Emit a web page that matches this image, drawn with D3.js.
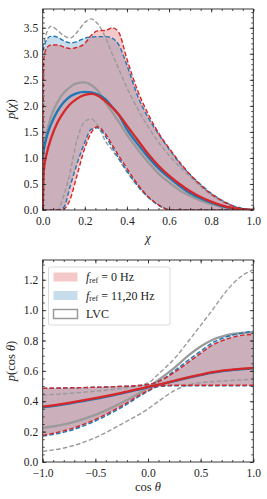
<!DOCTYPE html>
<html>
<head>
<meta charset="utf-8">
<script src="https://cdn.jsdelivr.net/npm/d3@7"></script>
<style>
  body { margin: 0; background: #fff; }
  svg { display: block; font-family: "Liberation Serif", "DejaVu Serif", serif; }
</style>
</head>
<body>
<div id="chart"></div>
<script>
// ---- data: spin magnitude chi ----
const chi = [0, 0.005, 0.02, 0.04, 0.07, 0.10, 0.13, 0.16, 0.20, 0.23, 0.26, 0.30, 0.33, 0.36,
  0.40, 0.45, 0.50, 0.55, 0.60, 0.65, 0.70, 0.75, 0.80, 0.85, 0.90, 0.95, 1.0];

const chiLvcHi  = [3.1, 3.2, 3.42, 3.53, 3.45, 3.35, 3.3, 3.4, 3.6, 3.67, 3.58, 3.3, 3.0, 2.72,
  2.35, 1.95, 1.6, 1.3, 1.05, 0.83, 0.64, 0.45, 0.29, 0.17, 0.08, 0.02, 0];
const chiLvcMed = [0.95, 1.15, 1.5, 1.8, 2.07, 2.25, 2.36, 2.43, 2.45, 2.4, 2.3, 2.05, 1.88, 1.7,
  1.45, 1.17, 0.92, 0.7, 0.53, 0.38, 0.27, 0.18, 0.11, 0.06, 0.025, 0.005, 0];
const chiLvcLo  = [0, 0, 0, 0, 0, 0.28, 0.72, 1.3, 1.7, 1.75, 1.63, 1.31, 1.15, 0.98,
  0.73, 0.46, 0.25, 0.1, 0.01, 0, 0, 0, 0, 0, 0, 0, 0];

const chiBlueHi  = [3.05, 3.12, 3.28, 3.34, 3.32, 3.25, 3.21, 3.23, 3.3, 3.32, 3.33, 3.33, 3.3, 3.18,
  2.78, 2.2, 1.78, 1.46, 1.17, 0.9, 0.68, 0.49, 0.32, 0.19, 0.09, 0.03, 0];
const chiBlueMed = [1.0, 1.15, 1.42, 1.65, 1.9, 2.07, 2.18, 2.24, 2.27, 2.26, 2.22, 2.12, 1.98, 1.83,
  1.55, 1.27, 1.02, 0.8, 0.62, 0.46, 0.32, 0.22, 0.14, 0.075, 0.03, 0.008, 0];
const chiBlueLo  = [0, 0, 0, 0, 0, 0.05, 0.45, 0.85, 1.3, 1.55, 1.58, 1.4, 1.2, 1.0,
  0.75, 0.47, 0.25, 0.09, 0.005, 0, 0, 0, 0, 0, 0, 0, 0];

const chiRedHi  = [0, 2.9, 3.12, 3.17, 3.17, 3.13, 3.1, 3.12, 3.2, 3.35, 3.44, 3.45, 3.5, 3.42,
  2.9, 2.3, 1.85, 1.48, 1.19, 0.92, 0.68, 0.48, 0.31, 0.18, 0.08, 0.02, 0];
const chiRedMed = [0, 0.75, 1.1, 1.38, 1.68, 1.88, 2.03, 2.13, 2.21, 2.23, 2.2, 2.08, 1.97, 1.84,
  1.62, 1.35, 1.08, 0.85, 0.66, 0.5, 0.36, 0.25, 0.16, 0.09, 0.04, 0.01, 0];
const chiRedLo  = [0, 0, 0, 0, 0, 0.02, 0.2, 0.62, 1.19, 1.48, 1.6, 1.45, 1.25, 1.05,
  0.8, 0.5, 0.26, 0.1, 0.005, 0, 0, 0, 0, 0, 0, 0, 0];

// ---- data: spin tilt cos(theta) ----
const cosT = [-1, -0.75, -0.5, -0.25, 0, 0.1, 0.25, 0.4, 0.5, 0.6, 0.75, 0.9, 1.0];

const cosLvcHi  = [0.44, 0.452, 0.466, 0.485, 0.52, 0.58, 0.68, 0.81, 0.9, 0.99, 1.13, 1.23, 1.265];
const cosLvcMed = [0.225, 0.255, 0.31, 0.39, 0.49, 0.54, 0.62, 0.71, 0.76, 0.8, 0.835, 0.85, 0.855];
const cosLvcLo  = [0.07, 0.1, 0.16, 0.25, 0.35, 0.4, 0.47, 0.51, 0.522, 0.528, 0.535, 0.541, 0.545];

const cosBlueHi  = [0.485, 0.488, 0.492, 0.498, 0.51, 0.53, 0.6, 0.68, 0.73, 0.78, 0.825, 0.85, 0.86];
const cosBlueMed = [0.36, 0.385, 0.415, 0.452, 0.492, 0.507, 0.532, 0.557, 0.572, 0.587, 0.602, 0.612, 0.617];
const cosBlueLo  = [0.17, 0.205, 0.27, 0.36, 0.465, 0.497, 0.502, 0.502, 0.502, 0.502, 0.502, 0.502, 0.502];

const cosRedHi  = [0.485, 0.488, 0.492, 0.498, 0.51, 0.53, 0.59, 0.665, 0.715, 0.765, 0.81, 0.835, 0.84];
const cosRedMed = [0.365, 0.39, 0.42, 0.455, 0.495, 0.51, 0.535, 0.56, 0.575, 0.59, 0.605, 0.615, 0.62];
const cosRedLo  = [0.175, 0.215, 0.28, 0.37, 0.47, 0.5, 0.505, 0.505, 0.505, 0.505, 0.505, 0.505, 0.505];

const legendLabels = ["0 Hz", "11,20 Hz", "LVC"];

const RED = "#d62728", BLUE = "#1f77b4", GREY = "#9a9a9a";

const W = 267, H = 499;
const svg = d3.select("#chart").append("svg").attr("width", W).attr("height", H);

function zip(xs, ys) { return xs.map((x, i) => [x, ys[i]]); }

function panel(box, xDom, yDom, xMaj, xMin, yMaj, yMin, xFmt, yFmt, sets) {
  const x = d3.scaleLinear().domain(xDom).range([box.l, box.r]);
  const y = d3.scaleLinear().domain(yDom).range([box.b, box.t]);
  const g = svg.append("g");
  const clip = "clip" + Math.round(box.t);
  g.append("clipPath").attr("id", clip).append("rect")
    .attr("x", box.l).attr("y", box.t).attr("width", box.r - box.l).attr("height", box.b - box.t);
  const plot = g.append("g").attr("clip-path", `url(#${clip})`);

  const line = d3.line().x(d => x(d[0])).y(d => y(d[1])).curve(d3.curveMonotoneX);
  const area = d3.area().x(d => x(d.x)).y0(d => y(d.lo)).y1(d => y(d.hi)).curve(d3.curveMonotoneX);

  // bands: blue then red
  [sets.blue, sets.red].forEach(s => {
    plot.append("path")
      .datum(s.x.map((v, i) => ({ x: v, lo: s.lo[i], hi: s.hi[i] })))
      .attr("d", area).attr("fill", s.color).attr("fill-opacity", 0.25);
  });

  [sets.lvc, sets.blue, sets.red].forEach(s => {
    [s.hi, s.lo].forEach(arr => {
      plot.append("path").datum(zip(s.x, arr)).attr("d", line)
        .attr("fill", "none").attr("stroke", s.color).attr("stroke-width", 1.4)
        .attr("stroke-dasharray", "4.5,2.3");
    });
    plot.append("path").datum(zip(s.x, s.med)).attr("d", line)
      .attr("fill", "none").attr("stroke", s.color).attr("stroke-width", 2.3);
  });

  // axes with inward ticks on all sides
  const axes = [
    [d3.axisBottom, x, xMaj, xMin, `translate(0,${box.b})`, xFmt, 6.5],
    [d3.axisTop, x, xMaj, xMin, `translate(0,${box.t})`, null, 5],
    [d3.axisLeft, y, yMaj, yMin, `translate(${box.l},0)`, yFmt, 4.5],
    [d3.axisRight, y, yMaj, yMin, `translate(${box.r},0)`, null, 5]
  ];
  axes.forEach(([ax, sc, maj, min, tr, fmt, pad]) => {
    const gm = g.append("g").attr("transform", tr)
      .call(ax(sc).tickValues(min).tickSize(-2).tickFormat(""));
    gm.select(".domain").remove();
    const ga = g.append("g").attr("transform", tr)
      .call(ax(sc).tickValues(maj).tickSize(-3.5).tickPadding(pad).tickFormat(fmt || (() => "")));
    ga.select(".domain").remove();
    ga.selectAll("text").attr("font-family", "Liberation Serif, DejaVu Serif, serif")
      .attr("font-size", 11.5).attr("fill", "#222");
    g.selectAll(".tick line").attr("stroke", "#222").attr("stroke-width", 0.8);
  });

  g.append("rect").attr("x", box.l).attr("y", box.t)
    .attr("width", box.r - box.l).attr("height", box.b - box.t)
    .attr("fill", "none").attr("stroke", "#222").attr("stroke-width", 0.9);

  return { g, x, y };
}

const f1 = d3.format(".1f");
const range = (a, b, s) => d3.range(Math.round((b - a) / s) + 1).map(i => +(a + i * s).toFixed(3));

// ---- upper panel ----
const chiPanel = panel({ l: 42.7, r: 253.3, t: 9, b: 210 }, [0, 1], [0, 3.86],
  range(0, 1, 0.2), range(0, 1, 0.05), range(0, 3.5, 0.5), range(0, 3.8, 0.1), f1, f1,
  {
    lvc:  { x: chi, hi: chiLvcHi, med: chiLvcMed, lo: chiLvcLo, color: GREY },
    blue: { x: chi, hi: chiBlueHi, med: chiBlueMed, lo: chiBlueLo, color: BLUE },
    red:  { x: chi, hi: chiRedHi, med: chiRedMed, lo: chiRedLo, color: RED }
  });

// ---- lower panel ----
const cosPanel = panel({ l: 42.7, r: 253.3, t: 260, b: 462 }, [-1, 1], [0, 1.33],
  range(-1, 1, 0.5), range(-1, 1, 0.1), range(0, 1.2, 0.2), range(0, 1.3, 0.05), f1, f1,
  {
    lvc:  { x: cosT, hi: cosLvcHi, med: cosLvcMed, lo: cosLvcLo, color: GREY },
    blue: { x: cosT, hi: cosBlueHi, med: cosBlueMed, lo: cosBlueLo, color: BLUE },
    red:  { x: cosT, hi: cosRedHi, med: cosRedMed, lo: cosRedLo, color: RED }
  });

// ---- axis labels ----
function label(x, y, parts, rotate) {
  const t = svg.append("text").attr("font-size", 12.5).attr("fill", "#222")
    .attr("text-anchor", "middle").attr("dominant-baseline", "central")
    .attr("transform", `translate(${x},${y})` + (rotate ? " rotate(-90)" : ""));
  parts.forEach(([s, it]) => t.append("tspan").text(s).attr("font-style", it ? "italic" : "normal"));
}
label(148, 238, [["χ", true]]);
label(11, 109, [["p", true], ["(", false], ["χ", true], [")", false]], true);
label(148, 487, [["cos ", false], ["θ", true]]);
label(11, 361, [["p", true], ["(cos ", false], ["θ", true], [")", false]], true);

// ---- legend ----
const lg = svg.append("g");
lg.append("rect").attr("x", 48.5).attr("y", 267).attr("width", 121.5).attr("height", 58)
  .attr("rx", 2).attr("fill", "#fff").attr("fill-opacity", 0.85)
  .attr("stroke", "#d0d0d0").attr("stroke-width", 0.8);
const rows = [
  { fill: RED, op: 0.25, stroke: "none" },
  { fill: BLUE, op: 0.25, stroke: "none" },
  { fill: "#fff", op: 1, stroke: GREY }
];
rows.forEach((r, i) => {
  const yy = 277 + i * 18.5;
  lg.append("rect").attr("x", 53.5).attr("y", yy - 4.5).attr("width", 24).attr("height", 9)
    .attr("fill", r.fill).attr("fill-opacity", r.op)
    .attr("stroke", r.stroke).attr("stroke-width", 1.5);
  const t = lg.append("text").attr("x", 86).attr("y", yy).attr("dominant-baseline", "central")
    .attr("font-size", 12).attr("fill", "#222");
  if (i < 2) {
    t.append("tspan").text("f").attr("font-style", "italic");
    t.append("tspan").text("ref").attr("font-size", 8).attr("dy", 2.5);
    t.append("tspan").text(" = " + legendLabels[i]).attr("dy", -2.5);
  } else {
    t.text(legendLabels[i]);
  }
});
</script>
</body>
</html>
